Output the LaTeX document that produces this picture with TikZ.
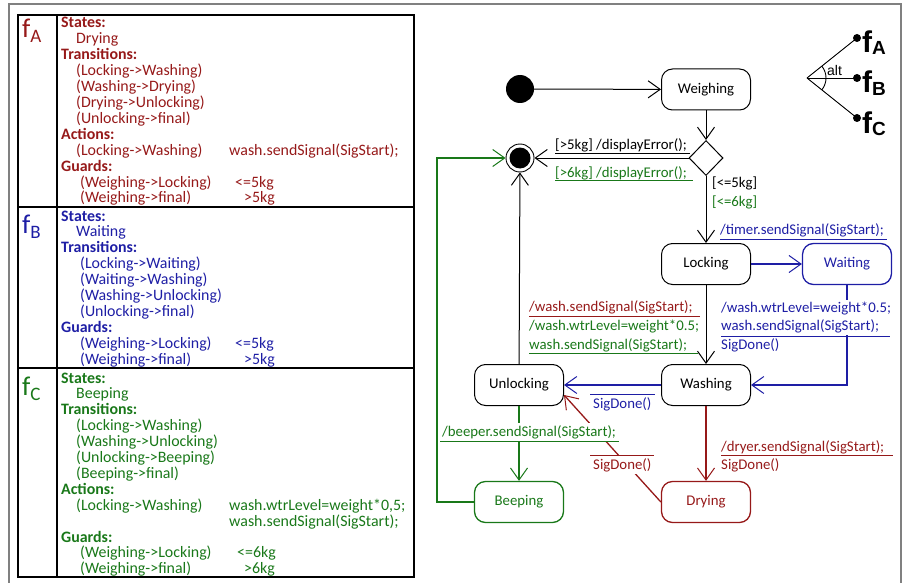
\documentclass[tikz,border=0pt]{standalone}
\usepackage{fontspec}
\setmainfont{Carlito}
\newfontfamily\arialf{Liberation Sans}
\usetikzlibrary{arrows.meta,shapes.geometric,calc}
\definecolor{cred}{RGB}{150,25,25}
\definecolor{cblue}{RGB}{30,30,165}
\definecolor{cgreen}{RGB}{25,120,25}
\definecolor{cgrey}{RGB}{128,128,128}
\begin{document}
\begin{tikzpicture}[x=1pt,y=-1pt,
  tab/.style={anchor=base west, inner sep=0pt, font=\fontsize{15.9}{16}\selectfont},
  hd/.style={anchor=base west, inner sep=0pt, font=\fontsize{15.9}{16}\selectfont\bfseries},
  lbl/.style={anchor=west, inner xsep=0pt, inner ysep=2pt, font=\fontsize{14.8}{18.5}\selectfont, align=left},
  st/.style={draw, rounded corners=11pt, minimum width=89pt, minimum height=41pt, line width=1pt, font=\fontsize{14.8}{17}\selectfont, inner sep=0pt},
  tr/.style={line width=1pt, -{Straight Barb[length=12pt,width=17pt,line width=1pt]}},
  ul/.style={line width=0.8pt},
  fbig/.style={anchor=base west, inner sep=0pt, font=\fontsize{27}{27}\selectfont},
  fsans/.style={anchor=base west, inner sep=0pt, font=\arialf\bfseries\fontsize{30}{30}\selectfont},
  dot/.style={circle, fill, inner sep=0pt, minimum size=8pt}
]
\useasboundingbox (0,0) rectangle (904,583);
% outer frame
\draw[cgrey, line width=2pt] (9,583) -- (9,4) -- (901,4) -- (901,583);
% table
\draw[line width=1.3pt] (18,15) rectangle (414,577);
\draw[line width=1.3pt] (57,15) -- (57,577);
\draw[line width=1.3pt] (18,207) -- (414,207);
\draw[line width=1.3pt] (18,368) -- (414,368);
% f_A section
\begin{scope}[cred]
\node[fbig, text=cred] (fa) at (22,38) {f\raisebox{-5pt}{\fontsize{19}{19}\selectfont A}};
\node[hd] (a0) at (61,28) {States:};
\node[tab] (a1) at (76,43.9) {Drying};
\node[hd] (a2) at (61,59.8) {Transitions:};
\node[tab] (a3) at (76,75.7) {(Locking->Washing)};
\node[tab] (a4) at (76,91.6) {(Washing->Drying)};
\node[tab] (a5) at (76,107.5) {(Drying->Unlocking)};
\node[tab] (a6) at (76,123.4) {(Unlocking->final)};
\node[hd] (a7) at (61,139.3) {Actions:};
\node[tab] (a8) at (76,155.2) {(Locking->Washing)};
\node[tab] (a8b) at (229,155.2) {wash.sendSignal(SigStart);};
\node[hd] (a9) at (61,171.1) {Guards:};
\node[tab] (a10) at (80,187) {(Weighing->Locking)};
\node[tab] (a10b) at (235,187) {<=5kg};
\node[tab] (a11) at (80,202.9) {(Weighing->final)};
\node[tab] (a11b) at (244,202.9) {>5kg};
\end{scope}
% f_B section
\begin{scope}[cblue]
\node[fbig, text=cblue] (fb) at (22,233) {f\raisebox{-5pt}{\fontsize{19}{19}\selectfont B}};
\node[hd] (b0) at (61,221) {States:};
\node[tab] (b1) at (76,236.9) {Waiting};
\node[hd] (b2) at (61,252.8) {Transitions:};
\node[tab] (b3) at (80,268.7) {(Locking->Waiting)};
\node[tab] (b4) at (80,284.6) {(Waiting->Washing)};
\node[tab] (b5) at (80,300.5) {(Washing->Unlocking)};
\node[tab] (b6) at (80,316.4) {(Unlocking->final)};
\node[hd] (b7) at (61,332.3) {Guards:};
\node[tab] (b8) at (80,348.2) {(Weighing->Locking)};
\node[tab] (b8b) at (235,348.2) {<=5kg};
\node[tab] (b9) at (80,364.1) {(Weighing->final)};
\node[tab] (b9b) at (244,364.1) {>5kg};
\end{scope}
% f_C section
\begin{scope}[cgreen]
\node[fbig, text=cgreen] (fc) at (22,395) {f\raisebox{-5pt}{\fontsize{19}{19}\selectfont C}};
\node[hd] (c0) at (61,383) {States:};
\node[tab] (c1) at (76,398.9) {Beeping};
\node[hd] (c2) at (61,414.8) {Transitions:};
\node[tab] (c3) at (76,430.7) {(Locking->Washing)};
\node[tab] (c4) at (76,446.6) {(Washing->Unlocking)};
\node[tab] (c5) at (76,462.5) {(Unlocking->Beeping)};
\node[tab] (c6) at (76,478.4) {(Beeping->final)};
\node[hd] (c7) at (61,494.3) {Actions:};
\node[tab] (c8) at (76,510.2) {(Locking->Washing)};
\node[tab] (c8b) at (229,510.2) {wash.wtrLevel=weight*0,5;};
\node[tab] (c9b) at (229,526.1) {wash.sendSignal(SigStart);};
\node[hd] (c10) at (61,542) {Guards:};
\node[tab] (c11) at (80,557.9) {(Weighing->Locking)};
\node[tab] (c11b) at (237,557.9) {<=6kg};
\node[tab] (c12) at (80,573.8) {(Weighing->final)};
\node[tab] (c12b) at (244,573.8) {>6kg};
\end{scope}
% feature diagram
\coordinate (altv) at (807,78);
\node[dot] (dA) at (857,38) {};
\node[dot] (dB) at (857,78) {};
\node[dot] (dC) at (857,118) {};
\draw[line width=0.9pt] (altv) -- (dA.center);
\draw[line width=0.9pt] (altv) -- (dB.center);
\draw[line width=0.9pt] (altv) -- (dC.center);
\draw[line width=0.9pt] ($(altv)+(-38.7:19)$) arc[start angle=-38.7, end angle=38.7, radius=19];
\node[anchor=base west, inner sep=0pt, font=\arialf\fontsize{14}{14}\selectfont] (alt) at (827,75.5) {alt};
\node[fsans] (tA) at (862,53) {f\raisebox{-2pt}{\fontsize{19}{19}\selectfont A}};
\node[fsans] (tB) at (862,93) {f\raisebox{-2pt}{\fontsize{19}{19}\selectfont B}};
\node[fsans] (tC) at (862,133) {f\raisebox{-2pt}{\fontsize{19}{19}\selectfont C}};
% state machine nodes
\node[circle, fill, inner sep=0pt, minimum size=28pt] (init) at (520,89) {};
\node[circle, draw, line width=0.9pt, inner sep=0pt, minimum size=28pt] (final) at (520,158) {};
\fill (final.center) circle (10.5pt);
\node[st] (weigh) at (706,89.5) {Weighing};
\node[diamond, draw, line width=1pt, aspect=1, inner sep=0pt, minimum width=34pt, minimum height=35pt] (dia) at (706,158) {};
\node[st] (lock) at (706,264) {Locking};
\node[st, draw=cblue, text=cblue, line width=1.3pt] (wait) at (847,264) {Waiting};
\node[st] (wash) at (706,385) {Washing};
\node[st] (unlock) at (519,385) {Unlocking};
\node[st, draw=cgreen, text=cgreen, line width=1.3pt] (beep) at (519,502) {Beeping};
\node[st, draw=cred, text=cred, line width=1.3pt] (dry) at (706,502) {Drying};
\coordinate (gcorner) at (437,158);
% connectors
\draw[tr] (init) -- (weigh);
\draw[tr] (weigh) -- (dia);
\draw[tr] (dia) -- (final);
\draw[tr] (dia) -- (lock);
\draw[tr, cblue, line width=1.3pt] (lock) -- (wait);
\draw[tr, cblue, line width=1.3pt] (wait.south) |- (wash.east);
\draw[tr] (lock) -- (wash);
\draw[tr, cblue, line width=1.3pt] (wash) -- (unlock);
\draw[tr, cred, line width=1.3pt] (wash) -- (dry);
\draw[tr, cred, line width=1.3pt] (dry.west) -- ($(unlock.east)+(0,10)$);
\draw[tr] (unlock) -- (final);
\draw[tr, cgreen, line width=1.3pt] (unlock) -- (beep);
\draw[tr, cgreen, line width=1.3pt] (beep.west) -| (gcorner) -- (final.west);
% labels
\node[lbl] (l1) at (555,145) {[>5kg] /displayError();};
\draw[ul] (555,153) -- (690,153);
\node[lbl, text=cgreen] (l2) at (555,173) {[>6kg] /displayError();};
\draw[ul, cgreen] (555,180) -- (693,180);
\node[lbl] (l3) at (712,183) {[<=5kg]};
\node[lbl, text=cgreen] (l4) at (712,202) {[<=6kg]};
\node[lbl, text=cblue] (l5) at (720,230) {/timer.sendSignal(SigStart);};
\draw[ul, cblue] (720,239) -- (887,239);
\node[lbl, text=cred] (l6) at (529,307) {/wash.sendSignal(SigStart);};
\draw[ul, cred] (529,316) -- (700,316);
\node[lbl, text=cgreen] (l7) at (529,336) {/wash.wtrLevel=weight*0.5;\\wash.sendSignal(SigStart);};
\draw[ul, cgreen] (529,353) -- (698,353);
\node[lbl, text=cblue, fill=white] (l8) at (721,317.5) {/wash.wtrLevel=weight*0.5;\\wash.sendSignal(SigStart);};
\draw[ul, cblue] (721,336) -- (890,336);
\node[lbl, text=cblue] (l9) at (721,345) {SigDone()};
\node[lbl, text=cblue] (l10) at (593,404) {SigDone()};
\draw[ul, cblue] (590,394) -- (655,394);
\node[lbl, text=cgreen, fill=white] (l11) at (442,432) {/beeper.sendSignal(SigStart);};
\draw[ul, cgreen] (440,441) -- (619,441);
\node[lbl, text=cred] (l12) at (721,447) {/dryer.sendSignal(SigStart);};
\draw[ul, cred] (721,455) -- (893,455);
\node[lbl, text=cred] (l13) at (721,465) {SigDone()};
\node[lbl, text=cred, fill=white] (l14) at (593,465) {SigDone()};
\draw[ul, cred] (590,455) -- (654,455);
\end{tikzpicture}
\end{document}
